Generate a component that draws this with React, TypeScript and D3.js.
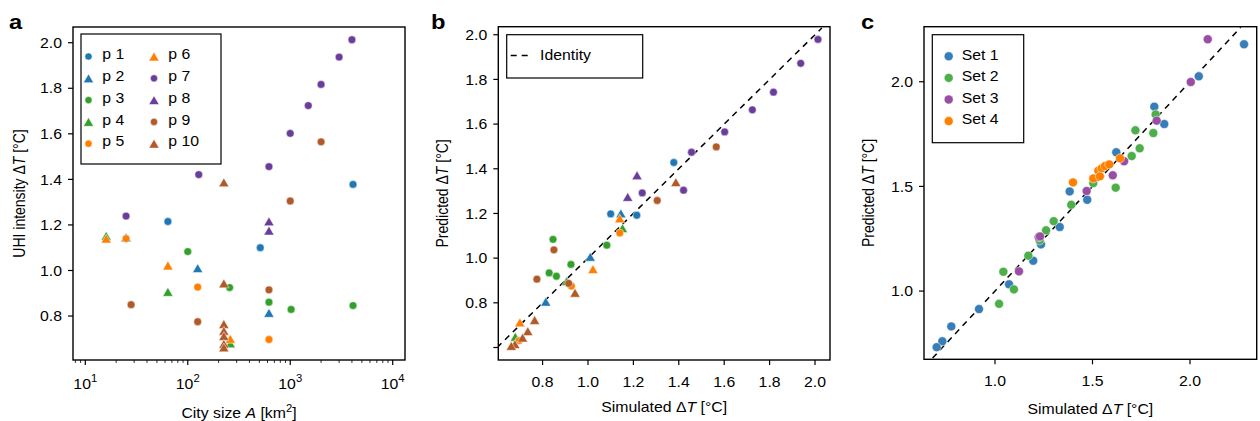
import React from 'react';
import * as d3 from 'd3';

const FONT = '"Liberation Sans", Arial, Helvetica, sans-serif';
const SX = 1.13; // horizontal stretch of the reference's lettering

// ---------- Panel a / b data (series p1..p10) ----------
const seriesNames = ['p 1', 'p 2', 'p 3', 'p 4', 'p 5', 'p 6', 'p 7', 'p 8', 'p 9', 'p 10'];
const seriesColors = ['#1f78b4', '#1f78b4', '#33a02c', '#33a02c', '#ff7f00', '#ff7f00', '#6a3d9a', '#6a3d9a', '#b15928', '#b15928'];
const seriesShapes = ['circle', 'triangle', 'circle', 'triangle', 'circle', 'triangle', 'circle', 'triangle', 'circle', 'triangle'];

// city size A [km²]
const p1Size = [64, 510, 4100];
const p2Size = [25, 125, 620];
const p3Size = [100, 256, 620, 1020, 4100];
const p4Size = [16, 64, 260];
const p5Size = [25, 125, 620];
const p6Size = [16, 64, 260];
const p7Size = [25, 128, 620, 1000, 1500, 2000, 3000, 4000];
const p8Size = [620, 620];
const p9Size = [28, 125, 620, 1000, 2000];
const p10Size = [225, 225, 225, 225, 225, 225, 225];

// simulated UHI intensity ΔT [°C]
const p1Sim = [1.215, 1.10, 1.378];
const p2Sim = [1.145, 1.01, 0.814];
const p3Sim = [1.083, 0.925, 0.861, 0.829, 0.846];
const p4Sim = [1.152, 0.906, 0.68];
const p5Sim = [1.14, 0.927, 0.697];
const p6Sim = [1.14, 1.022, 0.70];
const p7Sim = [1.239, 1.421, 1.456, 1.602, 1.724, 1.817, 1.937, 2.013];
const p8Sim = [1.216, 1.175];
const p9Sim = [0.85, 0.775, 0.915, 1.305, 1.565];
const p10Sim = [1.387, 0.943, 0.765, 0.735, 0.712, 0.678, 0.662];

// predicted ΔT [°C]
const p1Pred = [1.192, 1.198, 1.428];
const p2Pred = [1.20, 1.006, 0.805];
const p3Pred = [1.058, 0.972, 0.919, 0.934, 1.084];
const p4Pred = [1.134, 0.897, 0.648];
const p5Pred = [1.113, 0.875, 0.631];
const p6Pred = [1.178, 0.951, 0.712];
const p7Pred = [1.292, 1.304, 1.474, 1.565, 1.664, 1.743, 1.872, 1.979];
const p8Pred = [1.371, 1.274];
const p9Pred = [1.037, 0.906, 0.887, 1.258, 1.498];
const p10Pred = [1.340, 0.845, 0.723, 0.673, 0.644, 0.615, 0.607];

const sizeSets = [p1Size, p2Size, p3Size, p4Size, p5Size, p6Size, p7Size, p8Size, p9Size, p10Size];
const simSets = [p1Sim, p2Sim, p3Sim, p4Sim, p5Sim, p6Sim, p7Sim, p8Sim, p9Sim, p10Sim];
const predSets = [p1Pred, p2Pred, p3Pred, p4Pred, p5Pred, p6Pred, p7Pred, p8Pred, p9Pred, p10Pred];

// ---------- Panel c data ----------
const setNames = ['Set 1', 'Set 2', 'Set 3', 'Set 4'];
const setColors = ['#377eb8', '#4daf4a', '#984ea3', '#ff7f00'];
const set1Sim = [2.277, 2.045, 1.817, 1.868, 1.622, 1.383, 1.473, 1.332, 1.236, 1.196, 1.072, 0.918, 0.776, 0.730, 0.701];
const set1Pred = [2.179, 2.026, 1.881, 1.798, 1.663, 1.476, 1.436, 1.306, 1.223, 1.145, 1.032, 0.914, 0.831, 0.760, 0.732];
const set2Sim = [1.824, 1.720, 1.812, 1.742, 1.701, 1.619, 1.504, 1.391, 1.301, 1.262, 1.229, 1.171, 1.043, 1.097, 1.021];
const set2Pred = [1.844, 1.768, 1.755, 1.682, 1.645, 1.494, 1.516, 1.412, 1.334, 1.290, 1.242, 1.169, 1.092, 1.008, 0.939];
const set3Sim = [2.091, 2.004, 1.829, 1.662, 1.604, 1.470, 1.224, 1.231, 1.123];
const set3Pred = [2.203, 1.999, 1.814, 1.620, 1.553, 1.478, 1.258, 1.261, 1.094];
const set4Sim = [1.40, 1.504, 1.530, 1.547, 1.564, 1.586, 1.538, 1.641];
const set4Pred = [1.519, 1.538, 1.575, 1.586, 1.597, 1.605, 1.548, 1.634];
const setSims = [set1Sim, set2Sim, set3Sim, set4Sim];
const setPreds = [set1Pred, set2Pred, set3Pred, set4Pred];

// ---------- ticks ----------
const aXTicks = [10, 100, 1000, 10000];
const aXTickExps = ['1', '2', '3', '4'];
const aYTicks = [0.8, 1.0, 1.2, 1.4, 1.6, 1.8, 2.0];
const bXTicks = [0.8, 1.0, 1.2, 1.4, 1.6, 1.8, 2.0];
const bYTicks = [0.6, 0.8, 1.0, 1.2, 1.4, 1.6, 1.8, 2.0];
const bYTickLabels = ['', '0.8', '1.0', '1.2', '1.4', '1.6', '1.8', '2.0'];
const cXTicks = [1.0, 1.5, 2.0];
const cYTicks = [1.0, 1.5, 2.0];

// ---------- layout ----------
const A = { l: 73, r: 405, t: 27, b: 360 };
const B = { l: 498.3, r: 830, t: 26.7, b: 360 };
const C = { l: 924, r: 1256.7, t: 26.7, b: 359.3 };

const xA = d3.scaleLog().domain([Math.pow(10, 0.88), Math.pow(10, 4.12)]).range([A.l, A.r]);
const yA = d3.scaleLinear().domain([0.607, 2.069]).range([A.b, A.t]);
const xB = d3.scaleLinear().domain([0.605, 2.066]).range([B.l, B.r]);
const yB = d3.scaleLinear().domain([0.544, 2.036]).range([B.b, B.t]);
const xC = d3.scaleLinear().domain([0.636, 2.342]).range([C.l, C.r]);
const yC = d3.scaleLinear().domain([0.674, 2.263]).range([C.b, C.t]);

const TICK = 5;

function Txt({ x, y, rotate = 0, anchor = 'start', baseline, size = 14, weight, children }: any) {
  return (
    <g transform={`translate(${x},${y}) scale(${SX},1)${rotate ? ` rotate(${rotate})` : ''}`}>
      <text
        x={0}
        y={0}
        textAnchor={anchor}
        dominantBaseline={baseline}
        fontSize={size}
        fontWeight={weight}
        fontFamily={FONT}
        fill="#000"
      >
        {children}
      </text>
    </g>
  );
}

function Marker({ shape, x, y, color, r = 3.9 }: any) {
  if (shape === 'triangle') {
    const w = 5.1, h = 4.4;
    return (
      <path
        d={`M${x},${y - h}L${x + w},${y + h}L${x - w},${y + h}Z`}
        fill={color}
        stroke="#fff"
        strokeWidth={0.5}
      />
    );
  }
  return <circle cx={x} cy={y} r={r} fill={color} stroke="#fff" strokeWidth={0.5} />;
}

function DeltaT() {
  return (
    <>
      <tspan>Δ</tspan>
      <tspan fontStyle="italic">T</tspan>
    </>
  );
}

function Frame({ box }: any) {
  return (
    <rect
      x={box.l}
      y={box.t}
      width={box.r - box.l}
      height={box.b - box.t}
      fill="none"
      stroke="#000"
      strokeWidth={1.4}
    />
  );
}

function YTicks({ box, scale, ticks, labels }: any) {
  return (
    <g>
      {ticks.map((t: number, i: number) => (
        <g key={i}>
          <line x1={box.l - TICK} x2={box.l} y1={scale(t)} y2={scale(t)} stroke="#000" strokeWidth={1.2} />
          <Txt x={box.l - TICK - 6} y={scale(t)} anchor="end" baseline="central">
            {labels ? labels[i] : d3.format('.1f')(t)}
          </Txt>
        </g>
      ))}
    </g>
  );
}

function XTicks({ box, scale, ticks }: any) {
  return (
    <g>
      {ticks.map((t: number, i: number) => (
        <g key={i}>
          <line x1={scale(t)} x2={scale(t)} y1={box.b} y2={box.b + TICK} stroke="#000" strokeWidth={1.2} />
          <Txt x={scale(t)} y={box.b + 27} anchor="middle">
            {d3.format('.1f')(t)}
          </Txt>
        </g>
      ))}
    </g>
  );
}

function PanelA() {
  const dom = xA.domain();
  const minor: number[] = [];
  for (let e = 0; e <= 4; e++) {
    for (let k = 2; k <= 9; k++) {
      const v = k * Math.pow(10, e);
      if (v >= dom[0] && v <= dom[1]) minor.push(v);
    }
  }
  const legendRows = 5;
  return (
    <g>
      <Txt x={9} y={29} size={21} weight="bold">a</Txt>
      {seriesNames.map((name, s) =>
        sizeSets[s].map((a, i) => (
          <Marker key={`${s}-${i}`} shape={seriesShapes[s]} x={xA(a)} y={yA(simSets[s][i])} color={seriesColors[s]} />
        ))
      )}
      <Frame box={A} />
      {minor.map((v, i) => (
        <line key={i} x1={xA(v)} x2={xA(v)} y1={A.b} y2={A.b + 3} stroke="#000" strokeWidth={0.8} />
      ))}
      {aXTicks.map((t, i) => (
        <g key={i}>
          <line x1={xA(t)} x2={xA(t)} y1={A.b} y2={A.b + TICK} stroke="#000" strokeWidth={1.2} />
          <Txt x={xA(t)} y={A.b + 29} anchor="middle">
            <tspan>10</tspan>
            <tspan fontSize={10} dy={-7}>{aXTickExps[i]}</tspan>
          </Txt>
        </g>
      ))}
      <YTicks box={A} scale={yA} ticks={aYTicks} />
      <Txt x={(A.l + A.r) / 2} y={418} anchor="middle">
        City size <tspan fontStyle="italic">A</tspan> [km<tspan fontSize={10} dy={-6}>2</tspan><tspan dy={6}>]</tspan>
      </Txt>
      <Txt x={19} y={(A.t + A.b) / 2} rotate={-90} anchor="middle" baseline="central">
        UHI intensity <DeltaT /> [°C]
      </Txt>
      <rect x={81} y={34} width={140} height={130} fill="#fff" stroke="#000" strokeWidth={1.2} />
      {seriesNames.map((name, s) => {
        const col = Math.floor(s / legendRows);
        const row = s % legendRows;
        const mx = col === 0 ? 88.5 : 154;
        const tx = col === 0 ? 102.3 : 168.3;
        const ty = 54 + row * 21.8;
        return (
          <g key={name}>
            <Marker shape={seriesShapes[s]} x={mx} y={ty + 2.5} color={seriesColors[s]} r={3.6} />
            <Txt x={tx} y={ty} baseline="central">{name}</Txt>
          </g>
        );
      })}
    </g>
  );
}

function PanelB() {
  return (
    <g>
      <Txt x={431} y={29} size={21} weight="bold">b</Txt>
      <defs>
        <clipPath id="clipB">
          <rect x={B.l} y={B.t} width={B.r - B.l} height={B.b - B.t} />
        </clipPath>
      </defs>
      <line
        x1={xB(0.6)}
        y1={yB(0.6)}
        x2={xB(2.03)}
        y2={yB(2.03)}
        stroke="#000"
        strokeWidth={1.5}
        strokeDasharray="6,5"
        clipPath="url(#clipB)"
      />
      {seriesNames.map((name, s) =>
        simSets[s].map((v, i) => (
          <Marker key={`${s}-${i}`} shape={seriesShapes[s]} x={xB(v)} y={yB(predSets[s][i])} color={seriesColors[s]} />
        ))
      )}
      <Frame box={B} />
      <XTicks box={B} scale={xB} ticks={bXTicks} />
      <YTicks box={B} scale={yB} ticks={bYTicks} labels={bYTickLabels} />
      <Txt x={(B.l + B.r) / 2} y={412} anchor="middle">
        Simulated <DeltaT /> [°C]
      </Txt>
      <Txt x={442} y={(B.t + B.b) / 2} rotate={-90} anchor="middle" baseline="central">
        Predicted <DeltaT /> [°C]
      </Txt>
      <rect x={506.7} y={34.7} width={136} height={43.3} fill="#fff" stroke="#000" strokeWidth={1.2} />
      <line x1={510.7} x2={532} y1={55.5} y2={55.5} stroke="#000" strokeWidth={1.5} strokeDasharray="6,5" />
      <Txt x={540} y={55} baseline="central">Identity</Txt>
    </g>
  );
}

function PanelC() {
  return (
    <g>
      <Txt x={861} y={29} size={21} weight="bold">c</Txt>
      <defs>
        <clipPath id="clipC">
          <rect x={C.l} y={C.t} width={C.r - C.l} height={C.b - C.t} />
        </clipPath>
      </defs>
      <line
        x1={xC(0.68)}
        y1={yC(0.68)}
        x2={xC(2.26)}
        y2={yC(2.26)}
        stroke="#000"
        strokeWidth={1.5}
        strokeDasharray="6,5"
        clipPath="url(#clipC)"
      />
      {setNames.map((name, s) =>
        setSims[s].map((v, i) => (
          <circle key={`${s}-${i}`} cx={xC(v)} cy={yC(setPreds[s][i])} r={4.5} fill={setColors[s]} stroke="#fff" strokeWidth={0.5} />
        ))
      )}
      <Frame box={C} />
      <XTicks box={C} scale={xC} ticks={cXTicks} />
      <YTicks box={C} scale={yC} ticks={cYTicks} />
      <Txt x={(C.l + C.r) / 2} y={414} anchor="middle">
        Simulated <DeltaT /> [°C]
      </Txt>
      <Txt x={868} y={(C.t + C.b) / 2} rotate={-90} anchor="middle" baseline="central">
        Predicted <DeltaT /> [°C]
      </Txt>
      <rect x={932.3} y={34.7} width={91.4} height={108} fill="#fff" stroke="#000" strokeWidth={1.2} />
      {setNames.map((name, s) => {
        const ty = 54.5 + s * 21.6;
        return (
          <g key={name}>
            <circle cx={948.7} cy={ty + 1.8} r={4.5} fill={setColors[s]} stroke="#fff" strokeWidth={0.5} />
            <Txt x={961.7} y={ty} baseline="central">{name}</Txt>
          </g>
        );
      })}
    </g>
  );
}

export default function App() {
  return (
    <svg
      width={1260}
      height={421}
      viewBox="0 0 1260 421"
      style={{ position: 'absolute', left: 0, top: 0, background: '#fff', display: 'block' }}
    >
      <rect x={0} y={0} width={1260} height={421} fill="#fff" />
      <PanelA />
      <PanelB />
      <PanelC />
    </svg>
  );
}
